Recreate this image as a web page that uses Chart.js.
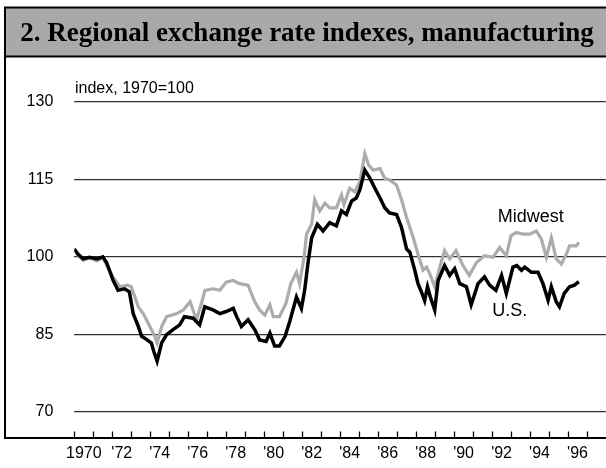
<!DOCTYPE html>
<html>
<head>
<meta charset="utf-8">
<script src="https://cdn.jsdelivr.net/npm/chart.js@4/dist/chart.umd.min.js"></script>
<style>
  body { margin: 0; background: #fff; }
  #wrap { width: 606px; height: 468px; }
</style>
</head>
<body>
<div id="wrap"><canvas id="myChart" width="606" height="468"></canvas></div>
<script>
// Datos (indice, 1970=100)
const chartTitle = "2. Regional exchange rate indexes, manufacturing";
const unitLabel  = "index, 1970=100";

const usYears = [1970.0, 1970.2, 1970.47, 1970.8, 1971.2, 1971.5, 1971.7, 1972.05, 1972.3, 1972.65,
  1972.9, 1973.1, 1973.37, 1973.55, 1973.8, 1974.06, 1974.2, 1974.36, 1974.6, 1974.86,
  1975.2, 1975.55, 1975.8, 1976.26, 1976.6, 1976.87, 1977.3, 1977.67, 1978.0, 1978.37,
  1978.55, 1978.8, 1979.15, 1979.5, 1979.76, 1980.1, 1980.3, 1980.55, 1980.8, 1981.1,
  1981.35, 1981.7, 1981.96, 1982.13, 1982.3, 1982.5, 1982.8, 1983.1, 1983.45, 1983.8,
  1984.07, 1984.33, 1984.6, 1984.85, 1985.04, 1985.3, 1985.57, 1985.83, 1986.1, 1986.35,
  1986.6, 1986.97, 1987.23, 1987.5, 1987.67, 1987.93, 1988.1, 1988.3, 1988.45, 1988.6,
  1988.75, 1988.98, 1989.16, 1989.5, 1989.77, 1990.03, 1990.3, 1990.65, 1990.9, 1991.26,
  1991.6, 1991.87, 1992.2, 1992.5, 1992.75, 1993.1, 1993.3, 1993.55, 1993.72, 1994.07,
  1994.42, 1994.68, 1994.95, 1995.12, 1995.38, 1995.55, 1995.8, 1996.08, 1996.34, 1996.57];
const usValues = [101.5, 100.5, 99.6, 99.9, 99.6, 100.0, 98.9, 95.4, 93.5, 93.8,
  93.2, 89.0, 86.5, 84.6, 84.0, 83.3, 81.5, 79.8, 83.3, 84.9,
  85.9, 86.8, 88.4, 88.1, 86.8, 90.3, 89.7, 89.0, 89.4, 90.0,
  88.4, 86.5, 87.8, 85.9, 83.9, 83.6, 85.2, 82.7, 82.7, 84.6,
  87.5, 92.2, 90.0, 93.5, 98.6, 103.7, 106.3, 105.0, 106.6, 106.0,
  108.9, 108.2, 110.8, 111.4, 113.0, 116.8, 115.2, 113.3, 111.4, 109.5,
  108.5, 108.2, 105.7, 101.5, 100.9, 97.4, 94.8, 93.0, 91.5, 94.2,
  92.2, 89.7, 95.4, 98.3, 96.4, 97.7, 94.8, 94.2, 90.7, 94.8,
  96.1, 94.5, 93.5, 96.4, 92.9, 98.0, 98.3, 97.4, 98.0, 97.0,
  97.0, 94.8, 91.6, 94.2, 91.3, 90.3, 92.9, 94.2, 94.5, 95.2];

const mwYears = [1970.0, 1970.2, 1970.47, 1970.8, 1971.2, 1971.5, 1971.8, 1972.05, 1972.4, 1972.8,
  1973.0, 1973.37, 1973.63, 1973.98, 1974.24, 1974.36, 1974.6, 1974.86, 1975.4, 1975.74,
  1976.1, 1976.43, 1976.7, 1976.88, 1977.3, 1977.67, 1978.0, 1978.37, 1978.7, 1979.15,
  1979.5, 1979.76, 1980.03, 1980.3, 1980.48, 1980.8, 1981.15, 1981.4, 1981.7, 1981.86,
  1982.1, 1982.23, 1982.5, 1982.66, 1982.93, 1983.2, 1983.45, 1983.8, 1984.07, 1984.2,
  1984.5, 1984.77, 1985.04, 1985.3, 1985.5, 1985.74, 1986.1, 1986.35, 1986.6, 1986.97,
  1987.23, 1987.5, 1987.85, 1988.1, 1988.37, 1988.55, 1988.72, 1988.98, 1989.25, 1989.5,
  1989.77, 1990.1, 1990.47, 1990.8, 1991.18, 1991.6, 1992.05, 1992.4, 1992.75, 1993.0,
  1993.28, 1993.63, 1993.98, 1994.33, 1994.6, 1994.86, 1995.12, 1995.38, 1995.65, 1995.91,
  1996.08, 1996.43, 1996.57];
const mwValues = [101.5, 100.3, 99.3, 99.8, 99.2, 99.9, 97.7, 96.0, 94.2, 94.5,
  94.2, 90.3, 89.0, 86.5, 84.6, 83.3, 86.5, 88.4, 89.0, 89.7,
  91.3, 87.8, 91.0, 93.5, 93.8, 93.5, 95.1, 95.4, 94.8, 94.5,
  91.3, 89.7, 88.7, 90.7, 88.4, 88.4, 91.0, 94.8, 97.0, 94.8,
  99.9, 104.4, 106.3, 111.1, 108.9, 110.4, 109.5, 109.5, 112.0, 110.1,
  113.3, 112.6, 114.6, 120.0, 117.8, 116.8, 117.1, 115.2, 114.9, 113.9,
  111.1, 107.6, 103.7, 100.5, 97.4, 98.0, 96.7, 94.2, 98.0, 101.2,
  99.6, 101.2, 98.3, 96.4, 98.9, 100.2, 99.9, 101.8, 100.2, 104.1,
  104.7, 104.4, 104.4, 105.0, 103.4, 99.9, 103.7, 99.6, 98.6, 100.5,
  102.1, 102.1, 102.8];

// Ejes
const yTicks      = [70, 85, 100, 115, 130];
const labelYears  = [1970.5, 1972.5, 1974.5, 1976.5, 1978.5, 1980.5, 1982.5, 1984.5,
                     1986.5, 1988.5, 1990.5, 1992.5, 1994.5, 1996.5];
const tickLabels  = ["1970", "'72", "'74", "'76", "'78", "'80", "'82", "'84",
                     "'86", "'88", "'90", "'92", "'94", "'96"];
// etiquetas de series: [nombre, anio, valor]
const seriesLabels = [["Midwest", 1994.04, 107.8], ["U.S.", 1992.93, 89.4]];

const toPoints = (xs, ys) => xs.map((x, i) => ({ x: x, y: ys[i] }));

// plugin para marco, barra de titulo, marcas del eje y textos
const framePlugin = {
  id: "frame",
  beforeDraw(chart) {
    const ctx = chart.ctx;
    ctx.save();
    ctx.fillStyle = "#fff";
    ctx.fillRect(0, 0, chart.width, chart.height);
    ctx.fillStyle = "#a9a9a9";
    ctx.fillRect(5, 7, chart.width - 5, 50);
    ctx.restore();
  },
  afterDraw(chart) {
    const ctx = chart.ctx;
    const xs = chart.scales.x, ys = chart.scales.y;
    const bottom = chart.chartArea.bottom;
    ctx.save();
    ctx.strokeStyle = "#000";
    ctx.lineWidth = 2;
    ctx.beginPath();
    ctx.moveTo(4, 7.5); ctx.lineTo(chart.width, 7.5);
    ctx.moveTo(4, 56.5); ctx.lineTo(chart.width, 56.5);
    ctx.moveTo(5, 7); ctx.lineTo(5, bottom + 1);
    ctx.moveTo(4, bottom + 0.5); ctx.lineTo(chart.width, bottom + 0.5);
    ctx.stroke();
    // marcas anuales hacia adentro
    ctx.lineWidth = 1.3;
    ctx.beginPath();
    for (let yr = xs.min; yr <= xs.max - 1; yr++) {
      const px = Math.round(xs.getPixelForValue(yr)) + 0.5;
      ctx.moveTo(px, bottom); ctx.lineTo(px, bottom - 6);
    }
    ctx.stroke();
    // titulo
    ctx.fillStyle = "#000";
    ctx.font = 'bold 27px "Liberation Serif", "Times New Roman", serif';
    ctx.textAlign = "center";
    ctx.textBaseline = "alphabetic";
    ctx.fillText(chartTitle, 307, 41);
    // unidad
    ctx.font = '16px "Liberation Sans", Arial, sans-serif';
    ctx.textAlign = "left";
    ctx.fillText(unitLabel, 75, 93);
    // nombres de series
    ctx.font = '18px "Liberation Sans", Arial, sans-serif';
    ctx.textAlign = "center";
    ctx.textBaseline = "middle";
    seriesLabels.forEach(s => {
      ctx.fillText(s[0], xs.getPixelForValue(s[1]), ys.getPixelForValue(s[2]));
    });
    ctx.restore();
  }
};

const config = {
  type: "line",
  data: {
    datasets: [
      { label: "U.S.", data: toPoints(usYears, usValues), borderColor: "#000",
        borderWidth: 3.5, pointRadius: 0, tension: 0, fill: false },
      { label: "Midwest", data: toPoints(mwYears, mwValues), borderColor: "#acacac",
        borderWidth: 3.2, pointRadius: 0, tension: 0, fill: false }
    ]
  },
  options: {
    responsive: false,
    animation: false,
    devicePixelRatio: 1,
    layout: { padding: { top: 102, left: 0, right: 0, bottom: 0 } },
    plugins: { legend: { display: false }, tooltip: { enabled: false }, title: { display: false } },
    scales: {
      x: {
        type: "linear", min: 1970, max: 1998,
        afterBuildTicks: (scale) => { scale.ticks = labelYears.map(v => ({ value: v })); },
        afterFit: (scale) => { scale.height = 25; },
        grid: { display: false, drawTicks: false },
        border: { display: false },
        ticks: {
          autoSkip: false, maxRotation: 0, padding: 7, color: "#000",
          font: { family: '"Liberation Sans", Arial, sans-serif', size: 16 },
          callback: (v, i) => tickLabels[i]
        }
      },
      y: {
        min: 65, max: 130,
        afterBuildTicks: (scale) => { scale.ticks = yTicks.map(v => ({ value: v })); },
        afterFit: (scale) => { scale.width = 74.3; },
        grid: { color: "#333", lineWidth: 1.3, drawTicks: false },
        border: { display: false },
        ticks: {
          padding: 21, color: "#000",
          font: { family: '"Liberation Sans", Arial, sans-serif', size: 16 }
        }
      }
    }
  },
  plugins: [framePlugin]
};

new Chart(document.getElementById("myChart"), config);
</script>
</body>
</html>
